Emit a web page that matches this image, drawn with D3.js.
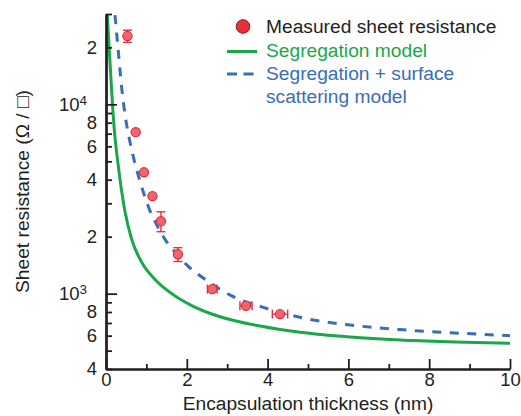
<!DOCTYPE html>
<html>
<head>
<meta charset="utf-8">
<script src="https://cdn.jsdelivr.net/npm/d3@7"></script>
<style>
  body { margin: 0; background: #fff; }
  svg { font-family: "Liberation Sans", Arial, sans-serif; }
</style>
</head>
<body>
<svg id="drawing_region"></svg>
<script>
// measured points (thickness in nm, sheet resistance in ohm/sq)
const measX    = [0.53, 0.735, 0.94, 1.15, 1.36, 1.78, 2.63, 3.465, 4.307];
const measR    = [22940, 7130, 4375, 3275, 2415, 1614, 1057, 863, 780];
const measXErr = [0, 0, 0, 0, 0, 0, 0.12, 0.15, 0.19];
const measRErr = [1700, 0, 0, 0, 290, 135, 0, 0, 0];

// segregation model curve
const segX = [0.032, 0.074, 0.124, 0.173, 0.223, 0.285, 0.347, 0.47, 0.636, 0.884, 1.213, 1.626, 2.121, 2.616, 3.193, 3.812, 4.802, 6.04, 7.277, 8.639, 10];
const segR = [29590, 20570, 13460, 9130, 6664, 5104, 4005, 2718, 1936, 1465, 1188, 1000, 865, 781, 719, 674, 625, 590, 569, 556, 547];

// segregation + surface scattering model curve
const scatX = [0.223, 0.297, 0.389, 0.483, 0.582, 0.693, 0.866, 1.047, 1.262, 1.46, 1.733, 2.037, 2.45, 3.111, 3.894, 5.007, 6.04, 7.277, 8.639, 10];
const scatR = [29590, 19840, 12210, 8490, 6506, 5104, 3770, 2887, 2294, 1936, 1634, 1395, 1192, 974, 846, 734, 683, 646, 620, 600];

// axis ticks
const xMajorTicks = [0, 2, 4, 6, 8, 10];
const xMinorTicks = [1, 3, 5, 7, 9];
const yDecadeTicks = [1000, 10000];
const yLabelTicks = [400, 600, 800, 2000, 4000, 6000, 8000, 20000];
const yMinorTicks = [500, 700, 900, 3000, 5000, 7000, 9000, 30000];

const legendLabels = ["Measured sheet resistance", "Segregation model", "Segregation + surface", "scattering model"];

const config = {
    width: 521,
    height: 416,
    margin: {top: 14, right: 11, bottom: 47, left: 106}
};

const ink = '#231f20';
const green = '#1aa64a';
const blue = '#3a6db5';
const red = '#e42d3a';
const redFill = '#ef6470';

const svg = d3.select('#drawing_region')
    .attr('width', config.width)
    .attr('height', config.height);

const inner_width = config.width - config.margin.left - config.margin.right;
const inner_height = config.height - config.margin.top - config.margin.bottom;

const chart = svg.append('g')
    .attr('transform', `translate(${config.margin.left}, ${config.margin.top})`);

const xscale = d3.scaleLinear().domain([0, 10]).range([0, inner_width]);
const yscale = d3.scaleLog().domain([400, 30000]).range([inner_height, 0]);

chart.append('clipPath').attr('id', 'plotclip')
    .append('rect')
    .attr('x', 0).attr('y', 0)
    .attr('width', inner_width + 2).attr('height', inner_height);

// curves
const line = d3.line()
    .x(d => xscale(d[0]))
    .y(d => yscale(d[1]))
    .curve(d3.curveMonotoneX);

chart.append('path')
    .datum(segX.map((x, i) => [x, segR[i]]))
    .attr('clip-path', 'url(#plotclip)')
    .attr('fill', 'none')
    .attr('stroke', green)
    .attr('stroke-width', 3)
    .attr('d', line);

chart.append('path')
    .datum(scatX.map((x, i) => [x, scatR[i]]))
    .attr('clip-path', 'url(#plotclip)')
    .attr('fill', 'none')
    .attr('stroke', blue)
    .attr('stroke-width', 3)
    .attr('stroke-dasharray', '9,8.5')
    .attr('d', line);

// error bars
const pts = measX.map((x, i) => ({x: x, r: measR[i], xe: measXErr[i], re: measRErr[i]}));
const errs = chart.append('g')
    .attr('stroke', red)
    .attr('stroke-width', 1.4)
    .attr('fill', 'none');

pts.filter(d => d.re > 0).forEach(d => {
    const cx = xscale(d.x), y0 = yscale(d.r - d.re), y1 = yscale(d.r + d.re);
    errs.append('line').attr('x1', cx).attr('x2', cx).attr('y1', y0).attr('y2', y1);
    errs.append('line').attr('x1', cx - 4.5).attr('x2', cx + 4.5).attr('y1', y0).attr('y2', y0);
    errs.append('line').attr('x1', cx - 4.5).attr('x2', cx + 4.5).attr('y1', y1).attr('y2', y1);
});
pts.filter(d => d.xe > 0).forEach(d => {
    const cy = yscale(d.r), x0 = xscale(d.x - d.xe), x1 = xscale(d.x + d.xe);
    errs.append('line').attr('x1', x0).attr('x2', x1).attr('y1', cy).attr('y2', cy);
    errs.append('line').attr('x1', x0).attr('x2', x0).attr('y1', cy - 4.5).attr('y2', cy + 4.5);
    errs.append('line').attr('x1', x1).attr('x2', x1).attr('y1', cy - 4.5).attr('y2', cy + 4.5);
});

chart.selectAll('circle.meas')
    .data(pts)
    .enter()
    .append('circle')
    .attr('class', 'meas')
    .attr('cx', d => xscale(d.x))
    .attr('cy', d => yscale(d.r))
    .attr('r', 4.6)
    .attr('fill', redFill)
    .attr('stroke', red)
    .attr('stroke-width', 1.2);

// axes
function styleAxis(g) {
    g.selectAll('path.domain').attr('stroke', ink).attr('stroke-width', 2);
    g.selectAll('.tick line').attr('stroke', ink).attr('stroke-width', 1.8);
    g.selectAll('.tick text').attr('fill', ink).attr('font-size', '18.5px')
        .attr('font-family', '"Liberation Sans", Arial, sans-serif');
}

chart.append('g')
    .attr('transform', `translate(0, ${inner_height})`)
    .call(d3.axisBottom(xscale).tickValues(xMinorTicks).tickSize(-5).tickSizeOuter(0).tickFormat(''))
    .call(styleAxis);

chart.append('g')
    .attr('transform', `translate(0, ${inner_height})`)
    .call(d3.axisBottom(xscale).tickValues(xMajorTicks).tickSize(-10).tickSizeOuter(0).tickPadding(4).tickFormat(d3.format('d')))
    .call(styleAxis);

chart.append('g')
    .call(d3.axisLeft(yscale).tickValues(yMinorTicks).tickSize(-6).tickSizeOuter(0).tickFormat(''))
    .call(styleAxis);

chart.append('g')
    .call(d3.axisLeft(yscale).tickValues(yLabelTicks).tickSize(-6).tickSizeOuter(0).tickPadding(9)
        .tickFormat(d => String(d / Math.pow(10, Math.floor(Math.log10(d) + 1e-9)))))
    .call(styleAxis);

const decAxis = chart.append('g')
    .call(d3.axisLeft(yscale).tickValues(yDecadeTicks).tickSize(-11).tickSizeOuter(0).tickPadding(19)
        .tickFormat(''))
    .call(styleAxis);

decAxis.selectAll('.tick text').each(function(d) {
    const t = d3.select(this);
    t.text('10');
    t.append('tspan')
        .attr('dy', '-0.42em')
        .attr('font-size', '13.5px')
        .text(Math.round(Math.log10(d)));
});

// axis titles
svg.append('text')
    .attr('x', config.margin.left + inner_width / 2)
    .attr('y', 410)
    .attr('text-anchor', 'middle')
    .attr('font-size', '19.2px')
    .attr('fill', ink)
    .text('Encapsulation thickness (nm)');

svg.append('text')
    .attr('transform', `translate(29, ${config.margin.top + inner_height / 2}) rotate(-90)`)
    .attr('text-anchor', 'middle')
    .attr('font-size', '19.2px')
    .attr('fill', ink)
    .text('Sheet resistance (\u03A9 / \u25A1)');

// legend
const legend = svg.append('g').attr('transform', 'translate(227, 0)');

legend.append('circle')
    .attr('cx', 16).attr('cy', 26.5).attr('r', 6.8)
    .attr('fill', '#e8303d').attr('stroke', '#7a1a20').attr('stroke-width', 1);

legend.append('line')
    .attr('x1', 0).attr('x2', 30).attr('y1', 51.5).attr('y2', 51.5)
    .attr('stroke', green).attr('stroke-width', 3);

legend.append('line')
    .attr('x1', 0).attr('x2', 32).attr('y1', 74).attr('y2', 74)
    .attr('stroke', blue).attr('stroke-width', 3)
    .attr('stroke-dasharray', '10,6.5');

const legendColors = [ink, green, blue, blue];
const legendBase = [33.3, 56.7, 80, 103.3];

legend.selectAll('text.leg')
    .data(legendLabels)
    .enter()
    .append('text')
    .attr('class', 'leg')
    .attr('x', 39)
    .attr('y', (d, i) => legendBase[i])
    .attr('font-size', '19.2px')
    .attr('fill', (d, i) => legendColors[i])
    .text(d => d);
</script>
</body>
</html>
